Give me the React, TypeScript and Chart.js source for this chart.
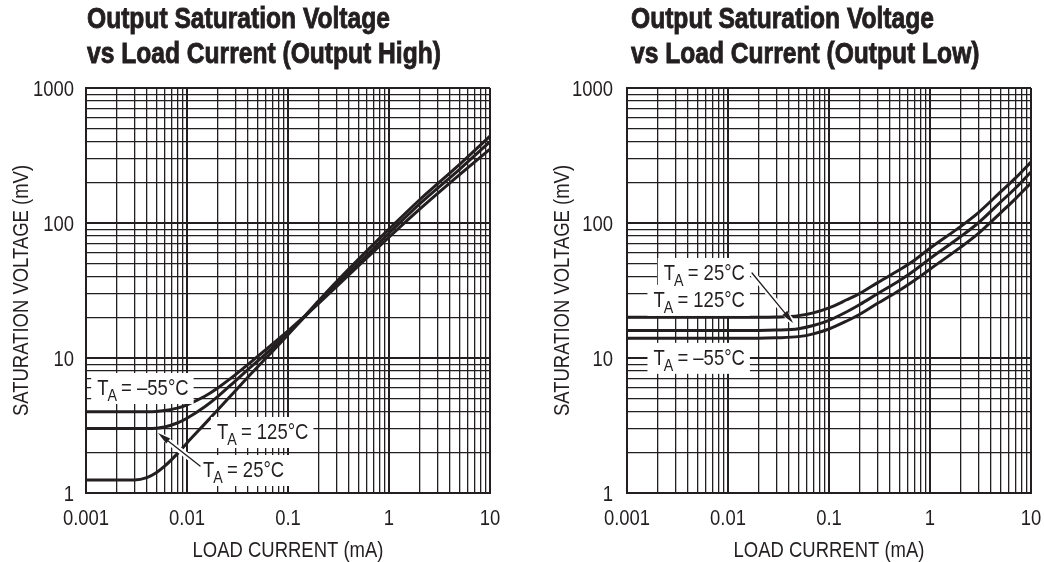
import { useEffect, useRef } from 'react';
import { Chart, registerables } from 'chart.js';

Chart.register(...registerables);

// Arial-metric sans, squeezed horizontally to get a condensed face
const FONT_STACK = '"Liberation Sans", Arial, Helvetica, sans-serif';
const SQUEEZE = 0.84;
const INK = '#231f20';

// Axis ticks (decades only carry labels)
const xDecades = [0.001, 0.01, 0.1, 1, 10];
const xTickLabels = ['0.001', '0.01', '0.1', '1', '10'];
const yDecades = [1, 10, 100, 1000];
const yTickLabels = ['1', '10', '100', '1000'];

const xAxisTitle = 'LOAD CURRENT (mA)';
const yAxisTitle = 'SATURATION VOLTAGE (mV)';

const highTitle = ['Output Saturation Voltage', 'vs Load Current (Output High)'];
const lowTitle = ['Output Saturation Voltage', 'vs Load Current (Output Low)'];

const tempNames = ['–55°C', '25°C', '125°C'];

// Output high: load current (mA) and saturation voltage (mV)
const highCurrent = [0.001, 0.002, 0.003, 0.004, 0.005, 0.006, 0.008, 0.01, 0.015, 0.02, 0.03, 0.04, 0.06, 0.1, 0.15, 0.2, 0.3, 0.5, 1, 2, 5, 10];
const highVoltageM55 = [4.0, 4.0, 4.0, 4.0, 4.02, 4.08, 4.25, 4.5, 5.21, 5.98, 7.5, 8.92, 11.5, 15.9, 20.8, 25.3, 33.6, 48.3, 78.4, 126, 228, 353];
const highVoltage25 = [3.0, 3.0, 3.0, 3.0, 3.02, 3.08, 3.3, 3.58, 4.35, 5.15, 6.75, 8.2, 10.7, 15.2, 20.6, 25.8, 34.8, 50.5, 84, 138, 250, 400];
const highVoltage125 = [1.25, 1.25, 1.25, 1.3, 1.42, 1.58, 1.95, 2.35, 3.25, 4.1, 5.7, 7.2, 9.9, 14.9, 20.8, 26.4, 36.5, 54, 90, 148, 272, 440];

// Output low: load current (mA) and saturation voltage (mV)
const lowCurrent = [0.001, 0.01, 0.02, 0.03, 0.05, 0.07, 0.1, 0.15, 0.2, 0.3, 0.5, 0.7, 1, 2, 3, 5, 7, 10];
const lowVoltageM55 = [14, 14, 14, 14.1, 14.4, 15.1, 16.4, 18.8, 21, 25.3, 31.8, 37.5, 45.5, 66, 83.5, 119, 151, 198];
const lowVoltage25 = [16, 16, 16, 16.1, 16.5, 17.4, 19, 22, 24.8, 29.8, 37.5, 44.5, 54.5, 79, 100, 143, 181, 239];
const lowVoltage125 = [20, 20, 20, 20.1, 20.6, 21.6, 23.5, 27, 30, 36, 45, 53, 65, 94, 119, 170, 215, 283];

// Curve label anchors in data units (current, voltage); order follows tempNames
const highLabelCurrent = [0.00129, 0.0144, 0.0198];
const highLabelVoltage = [6.1, 1.506, 2.88];
const lowLabelCurrent = [0.0147, 0.0147, 0.0147];
const lowLabelVoltage = [10.2, 43.4, 27.4];

// Leader arrows: [tail, head]
const highArrowCurrent = [0.01346, 0.00516];
const highArrowVoltage = [1.585, 2.78];
const lowArrowCurrent = [0.0173, 0.0441];
const lowArrowVoltage = [42.6, 18.2];

const isDecade = (v: number) => Math.abs(Math.log10(v) - Math.round(Math.log10(v))) < 1e-6;

function logPaperTicks(decades: number[]) {
  const out: { value: number }[] = [];
  for (let i = 0; i < decades.length - 1; i++) {
    for (let k = 1; k < 10; k++) out.push({ value: Number((decades[i] * k).toPrecision(6)) });
  }
  out.push({ value: decades[decades.length - 1] });
  return out;
}

// Condensed text: draw with a horizontal squeeze around the anchor
function squeezedText(
  ctx: CanvasRenderingContext2D,
  text: string,
  x: number,
  y: number,
  size: number,
  align: CanvasTextAlign,
  rotate = 0,
  weight = 'normal'
) {
  ctx.save();
  ctx.translate(x, y);
  if (rotate) ctx.rotate(rotate);
  ctx.scale(SQUEEZE, 1);
  ctx.font = `${weight} ${size}px ${FONT_STACK}`;
  ctx.fillStyle = INK;
  ctx.textAlign = align;
  ctx.textBaseline = 'alphabetic';
  ctx.fillText(text, 0, 0);
  ctx.restore();
}

function textWidth(ctx: CanvasRenderingContext2D, text: string, size: number) {
  ctx.font = `${size}px ${FONT_STACK}`;
  return ctx.measureText(text).width * SQUEEZE;
}

function tempLabel(ctx: CanvasRenderingContext2D, temp: string, px: number, py: number, align: string) {
  const big = 22;
  const small = 17;
  const rest = ' = ' + temp;
  const wT = textWidth(ctx, 'T', big);
  const wA = textWidth(ctx, 'A', small);
  const wRest = textWidth(ctx, rest, big);
  const w = wT + wA + wRest - 2;
  const left = align === 'right' ? px - w : px;
  const base = py + 8;
  return {
    box: () => {
      ctx.fillStyle = '#ffffff';
      ctx.fillRect(left - 6, py - 14, w + 11, 31);
    },
    text: () => {
      squeezedText(ctx, 'T', left, base, big, 'left');
      squeezedText(ctx, 'A', left + wT - 1, base + 6, small, 'left');
      squeezedText(ctx, rest, left + wT + wA - 2, base, big, 'left');
    },
  };
}

function drawArrow(ctx: CanvasRenderingContext2D, x0: number, y0: number, x1: number, y1: number) {
  const ang = Math.atan2(y1 - y0, x1 - x0);
  const c = Math.cos(ang);
  const s = Math.sin(ang);
  const head = 13;
  const half = 3.2;
  ctx.save();
  ctx.lineCap = 'round';
  ctx.strokeStyle = '#ffffff';
  ctx.lineWidth = 6;
  ctx.beginPath();
  ctx.moveTo(x0, y0);
  ctx.lineTo(x1 - 4 * c, y1 - 4 * s);
  ctx.stroke();
  ctx.strokeStyle = INK;
  ctx.lineWidth = 1.3;
  ctx.beginPath();
  ctx.moveTo(x0, y0);
  ctx.lineTo(x1 - head * c, y1 - head * s);
  ctx.stroke();
  ctx.fillStyle = INK;
  ctx.beginPath();
  ctx.moveTo(x1, y1);
  ctx.lineTo(x1 - head * c + half * s, y1 - head * s - half * c);
  ctx.lineTo(x1 - head * c - half * s, y1 - head * s + half * c);
  ctx.closePath();
  ctx.fill();
  ctx.restore();
}

type LabelSpec = {
  labelCurrent: number[];
  labelVoltage: number[];
  align: string;
  arrowCurrent: number[];
  arrowVoltage: number[];
};

function makeTextPlugin(spec: LabelSpec, yTickPad: number) {
  return {
    id: 'panelText',
    afterDatasetsDraw(chart: any) {
      const { ctx } = chart;
      const xs = chart.scales.x;
      const ys = chart.scales.y;
      ctx.save();
      const items = tempNames.map((t, i) =>
        tempLabel(ctx, t, xs.getPixelForValue(spec.labelCurrent[i]), ys.getPixelForValue(spec.labelVoltage[i]), spec.align)
      );
      items.forEach((it) => it.box());
      drawArrow(
        ctx,
        xs.getPixelForValue(spec.arrowCurrent[0]),
        ys.getPixelForValue(spec.arrowVoltage[0]),
        xs.getPixelForValue(spec.arrowCurrent[1]),
        ys.getPixelForValue(spec.arrowVoltage[1])
      );
      items.forEach((it) => it.text());
      ctx.restore();
    },
    afterDraw(chart: any) {
      const { ctx, chartArea } = chart;
      const xs = chart.scales.x;
      const ys = chart.scales.y;
      const size = 22;
      const capHalf = size * 0.358;
      xDecades.forEach((d, i) => {
        squeezedText(ctx, xTickLabels[i], xs.getPixelForValue(d), chartArea.bottom + 24 + capHalf, size, 'center');
      });
      yDecades.forEach((d, i) => {
        squeezedText(ctx, yTickLabels[i], chartArea.left - yTickPad, ys.getPixelForValue(d) + capHalf, size, 'right');
      });
      squeezedText(ctx, xAxisTitle, (chartArea.left + chartArea.right) / 2, chartArea.bottom + 56 + capHalf, size, 'center');
      squeezedText(
        ctx,
        yAxisTitle,
        chartArea.left - 66 + capHalf,
        (chartArea.top + chartArea.bottom) / 2,
        size,
        'center',
        -Math.PI / 2
      );
    },
  };
}

function gridWidth(c: any) {
  return c.tick && isDecade(c.tick.value) ? 2 : 1.3;
}

type PanelSpec = {
  current: number[];
  series: number[][];
  padRight: number;
  yTickPad: number;
  labels: LabelSpec;
};

function buildConfig(p: PanelSpec): any {
  return {
    type: 'line',
    data: {
      datasets: p.series.map((values, si) => ({
        label: 'TA = ' + tempNames[si],
        data: p.current.map((x, i) => ({ x, y: values[i] })),
        borderColor: INK,
        borderWidth: 3,
        pointRadius: 0,
        fill: false,
        cubicInterpolationMode: 'monotone',
      })),
    },
    options: {
      responsive: false,
      animation: false,
      devicePixelRatio: 1,
      layout: { padding: { top: 88, right: p.padRight, bottom: 0, left: 0 } },
      plugins: { legend: { display: false }, tooltip: { enabled: false }, title: { display: false } },
      scales: {
        x: {
          type: 'logarithmic',
          min: 0.001,
          max: 10,
          afterBuildTicks: (s: any) => {
            s.ticks = logPaperTicks(xDecades);
          },
          afterFit: (s: any) => {
            s.height = 69;
          },
          grid: { color: INK, lineWidth: gridWidth, drawTicks: false },
          border: { display: true, color: INK, width: 2 },
          ticks: { display: false, autoSkip: false },
        },
        y: {
          type: 'logarithmic',
          min: 1,
          max: 1000,
          afterBuildTicks: (s: any) => {
            s.ticks = logPaperTicks(yDecades);
          },
          afterFit: (s: any) => {
            s.width = 86;
          },
          grid: { color: INK, lineWidth: gridWidth, drawTicks: false },
          border: { display: true, color: INK, width: 2 },
          ticks: { display: false, autoSkip: false },
        },
      },
    },
    plugins: [makeTextPlugin(p.labels, p.yTickPad)],
  };
}

function Panel({ spec, left, width }: { spec: PanelSpec; left: number; width: number }) {
  const ref = useRef<HTMLCanvasElement | null>(null);
  useEffect(() => {
    if (!ref.current) return;
    const chart = new Chart(ref.current, buildConfig(spec));
    return () => chart.destroy();
  }, [spec]);
  return (
    <canvas
      ref={ref}
      width={width}
      height={562}
      style={{ position: 'absolute', left, top: 0, width, height: 562 }}
    />
  );
}

const highPanel: PanelSpec = {
  current: highCurrent,
  series: [highVoltageM55, highVoltage25, highVoltage125],
  padRight: 32,
  yTickPad: 12,
  labels: {
    labelCurrent: highLabelCurrent,
    labelVoltage: highLabelVoltage,
    align: 'left',
    arrowCurrent: highArrowCurrent,
    arrowVoltage: highArrowVoltage,
  },
};

const lowPanel: PanelSpec = {
  current: lowCurrent,
  series: [lowVoltageM55, lowVoltage25, lowVoltage125],
  padRight: 13,
  yTickPad: 14,
  labels: {
    labelCurrent: lowLabelCurrent,
    labelVoltage: lowLabelVoltage,
    align: 'right',
    arrowCurrent: lowArrowCurrent,
    arrowVoltage: lowArrowVoltage,
  },
};

function Title({ lines, left }: { lines: string[]; left: number }) {
  return (
    <div
      style={{
        position: 'absolute',
        left,
        top: 0,
        fontFamily: FONT_STACK,
        fontWeight: 'bold',
        fontSize: 30,
        lineHeight: '35px',
        color: INK,
        whiteSpace: 'nowrap',
        WebkitTextStroke: `0.9px ${INK}`,
        transform: 'scaleX(0.82)',
        transformOrigin: 'left top',
      }}
    >
      {lines.map((l) => (
        <div key={l}>{l}</div>
      ))}
    </div>
  );
}

export default function App() {
  return (
    <div
      style={{
        position: 'absolute',
        left: 0,
        top: 0,
        width: 1044,
        height: 562,
        overflow: 'hidden',
        background: '#ffffff',
      }}
    >
      <Panel spec={highPanel} left={0} width={522} />
      <Panel spec={lowPanel} left={541} width={503} />
      <Title lines={highTitle} left={87} />
      <Title lines={lowTitle} left={631} />
    </div>
  );
}
